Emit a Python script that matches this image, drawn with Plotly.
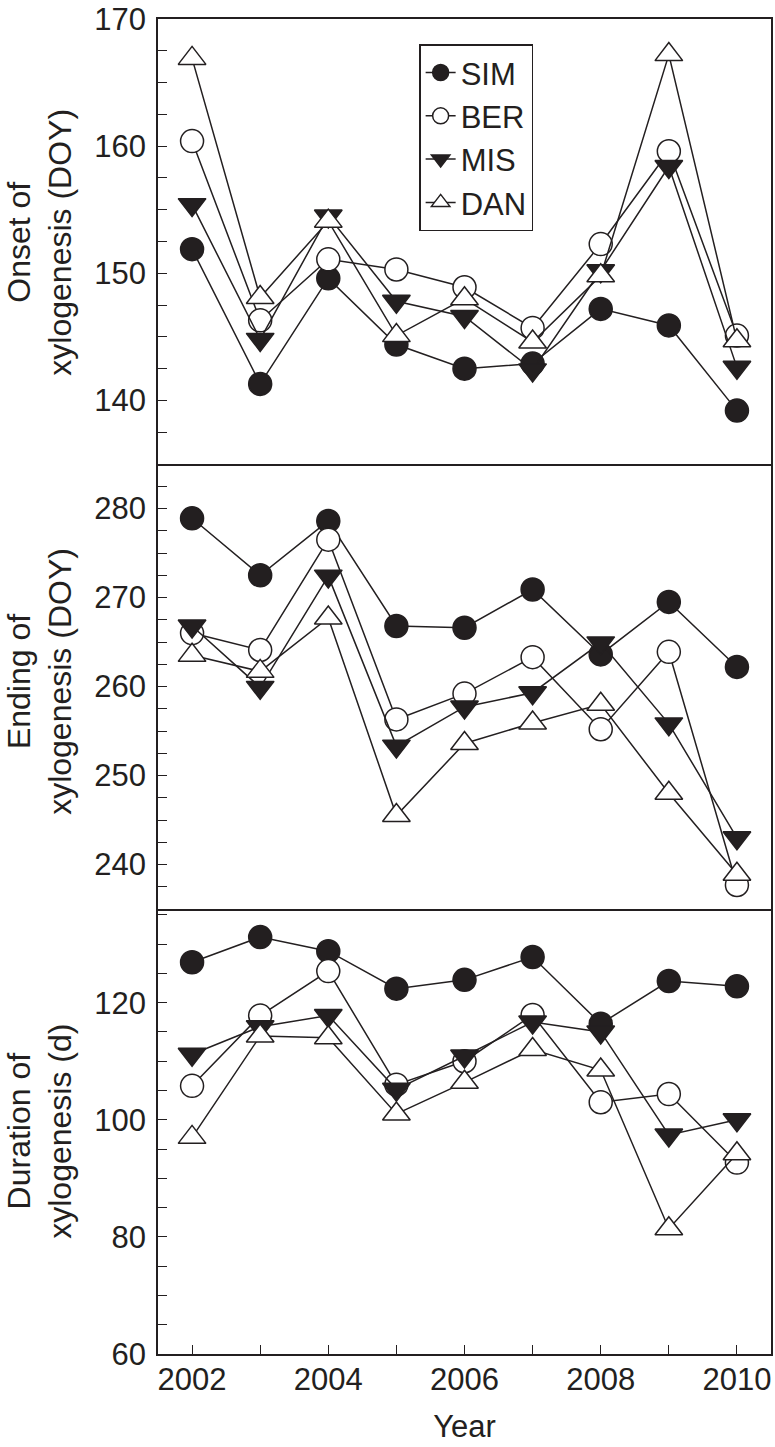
import plotly.graph_objects as go
from plotly.subplots import make_subplots

years = [2002, 2003, 2004, 2005, 2006, 2007, 2008, 2009, 2010]
series = ["SIM", "BER", "MIS", "DAN"]

onset_sim = [151.9, 141.3, 149.6, 144.4, 142.5, 142.9, 147.2, 145.9, 139.2]
onset_ber = [160.4, 146.3, 151.1, 150.3, 148.9, 145.7, 152.3, 159.6, 145.1]
onset_mis = [155.4, 144.8, 154.5, 147.8, 146.6, 142.4, 150.2, 158.4, 142.6]
onset_dan = [166.9, 148.1, 154.1, 145.1, 148.0, 144.6, 149.8, 167.2, 144.7]

end_sim = [278.9, 272.5, 278.6, 266.8, 266.6, 270.9, 263.6, 269.5, 262.2]
end_ber = [266.0, 264.1, 276.5, 256.3, 259.2, 263.3, 255.2, 263.9, 237.7]
end_mis = [266.8, 259.9, 272.4, 253.3, 257.7, 259.3, 264.9, 255.8, 243.0]
end_dan = [263.5, 261.7, 267.7, 245.5, 253.6, 255.9, 258.0, 248.0, 238.9]

dur_sim = [126.9, 131.2, 128.8, 122.4, 123.9, 127.8, 116.4, 123.7, 122.8]
dur_ber = [105.8, 117.8, 125.4, 106.0, 110.0, 117.9, 103.0, 104.4, 92.7]
dur_mis = [111.2, 115.9, 117.8, 105.2, 110.9, 116.7, 115.0, 97.4, 100.0]
dur_dan = [97.0, 114.3, 114.0, 101.0, 106.4, 112.0, 108.5, 81.4, 94.2]

panels = [
    [onset_sim, onset_ber, onset_mis, onset_dan],
    [end_sim, end_ber, end_mis, end_dan],
    [dur_sim, dur_ber, dur_mis, dur_dan],
]
y_titles = ["Onset of<br>xylogenesis (DOY)", "Ending of<br>xylogenesis (DOY)",
            "Duration of<br>xylogenesis (d)"]

INK = "#231f20"
styles = {
    "SIM": dict(symbol="circle", color=INK, size=23),
    "BER": dict(symbol="circle", color="white", size=23),
    "MIS": dict(symbol="triangle-down", color=INK, size=24),
    "DAN": dict(symbol="triangle-up", color="white", size=24),
}

fig = make_subplots(rows=3, cols=1, shared_xaxes=True, vertical_spacing=0)

for r, vals in enumerate(panels, start=1):
    for name, ys in zip(series, vals):
        st = styles[name]
        fig.add_trace(go.Scatter(
            x=years, y=ys, mode="lines+markers", name=name,
            legendgroup=name, showlegend=(r == 1),
            line=dict(color=INK, width=1.5),
            marker=dict(symbol=st["symbol"], size=st["size"], color=st["color"],
                        line=dict(color=INK, width=1.5)),
        ), row=r, col=1)

font = "Liberation Sans, Arial, sans-serif"
FS = 31
axis_common = dict(showline=True, linecolor=INK, linewidth=1.5,
                   showgrid=False, zeroline=False, ticks="inside", ticklen=9,
                   tickwidth=1.3, tickcolor=INK,
                   tickfont=dict(family=font, size=FS, color=INK))

yranges = [[135, 170], [235, 285], [60, 136]]
ydticks = [10, 10, 20]
yminor = [2.5, 2.5, 5]
for i in range(3):
    fig.update_yaxes(range=yranges[i], tickmode="linear", tick0=0, dtick=ydticks[i],
                     minor=dict(dtick=yminor[i], ticks="inside", ticklen=9,
                                tickwidth=1.3, tickcolor=INK, showgrid=False),
                     ticklabelstandoff=4, ticklabeloverflow="allow",
                     mirror=True, **axis_common, row=i + 1, col=1)

for i in range(3):
    fig.update_xaxes(range=[2001.5, 2010.5], mirror=(i == 0), **axis_common,
                     row=i + 1, col=1)
fig.update_xaxes(showticklabels=False, ticks="", row=1, col=1)
fig.update_xaxes(showticklabels=False, ticks="", row=2, col=1)
fig.update_xaxes(tickmode="array", tickvals=[2002, 2004, 2006, 2008, 2010],
                 ticklabelstandoff=-3, ticklabeloverflow="allow",
                 minor=dict(tickmode="array", tickvals=[2003, 2005, 2007, 2009],
                            ticks="inside", ticklen=9, tickwidth=1.3, tickcolor=INK),
                 title=dict(text="Year", font=dict(family=font, size=FS, color=INK),
                            standoff=19),
                 row=3, col=1)

# y-axis titles as annotations centred on each panel
centers = [0.833, 0.504, 0.167]
for t, c in zip(y_titles, centers):
    fig.add_annotation(text=t, xref="paper", yref="paper", x=-0.193, y=c,
                       xanchor="center", yanchor="middle", textangle=-90,
                       showarrow=False, align="center",
                       font=dict(family=font, size=FS + 1, color=INK))

fig.update_layout(
    width=775, height=1447,
    margin=dict(l=158, r=2, t=17, b=93),
    paper_bgcolor="white", plot_bgcolor="white",
    font=dict(family=font, color=INK),
    legend=dict(x=0.426, y=0.981, xanchor="left", yanchor="top",
                bordercolor=INK, borderwidth=1.5, bgcolor="white",
                font=dict(family=font, size=FS, color=INK),
                tracegroupgap=0, itemwidth=30),
)

fig.write_html("out.html", config={"displayModeBar": False},
               post_script="document.body.style.margin='0';")
